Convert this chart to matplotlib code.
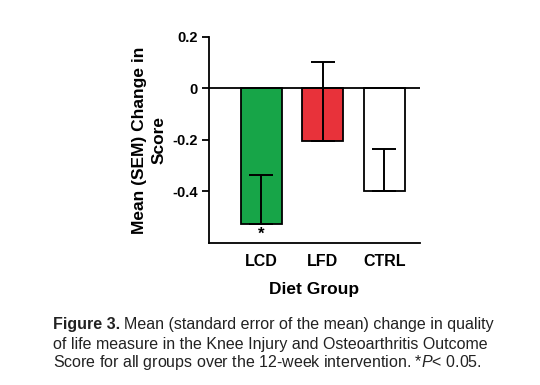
import matplotlib
matplotlib.use('Agg')
import matplotlib.pyplot as plt

plt.rcParams['font.family'] = ['Liberation Sans', 'DejaVu Sans']
plt.rcParams['mathtext.fontset'] = 'custom'
plt.rcParams['mathtext.it'] = 'Liberation Sans:italic'
plt.rcParams['mathtext.rm'] = 'Liberation Sans'

grupos = ['LCD', 'LFD', 'CTRL']
medias = [-0.527, -0.206, -0.40]
sem = [0.192, 0.31, 0.166]
colores = ['#17a548', '#e8323a', 'white']

fig = plt.figure(figsize=(5.4, 3.85), dpi=100)
ax = fig.add_axes([0.387, 0.369, 0.391, 0.535])

x = list(range(len(grupos)))
ax.bar(x, medias, width=0.67, color=colores, edgecolor='black', linewidth=1.3, zorder=2)
ax.errorbar(x, medias, yerr=[[0] * len(sem), sem], fmt='none', ecolor='black',
            elinewidth=1.4, capsize=8.5, capthick=1.4, zorder=3)
ax.axhline(0, color='black', linewidth=1.3, zorder=4)

ax.text(0, medias[0] - 0.012, '*', ha='center', va='top', fontsize=12, fontweight='bold')

ax.set_xlim(-0.85, 2.58)
ax.set_ylim(-0.6, 0.2)
ax.set_yticks([0.2, 0, -0.2, -0.4])
ax.set_yticklabels(['0.2', '0', '-0.2', '-0.4'])
ax.set_xticks(x)
ax.set_xticklabels(grupos)
ax.tick_params(axis='x', length=0, pad=8)
ax.tick_params(axis='y', length=5, width=1.3, pad=3)
for lab in ax.get_xticklabels():
    lab.set_fontweight('bold')
    lab.set_fontsize(11.5)
for lab in ax.get_yticklabels():
    lab.set_fontweight('bold')
    lab.set_fontsize(10.5)
ax.spines['top'].set_visible(False)
ax.spines['right'].set_visible(False)
ax.spines['left'].set_linewidth(1.3)
ax.spines['bottom'].set_linewidth(1.3)
ax.set_ylabel('Mean (SEM) Change in\nScore', fontsize=12.5, fontweight='bold', labelpad=4,
              linespacing=1.4)
ax.set_xlabel('Diet Group', fontsize=12.5, fontweight='bold', labelpad=9)

# pie de figura
fig.canvas.draw()
r = fig.canvas.get_renderer()
x0 = 53 / 540
t = fig.text(x0, 1 - 325 / 385, 'Figure 3.', fontsize=11.5, fontweight='bold', va='center', color='#222222')
bb = t.get_window_extent(r)
fig.text(bb.x1 / 540 + 0.007, 1 - 325 / 385, 'Mean (standard error of the mean) change in quality',
         fontsize=11.5, va='center', color='#222222')
fig.text(x0, 1 - 344 / 385, 'of life measure in the Knee Injury and Osteoarthritis Outcome',
         fontsize=11.5, va='center', color='#222222')
fig.text(x0, 1 - 363 / 385, 'Score for all groups over the 12-week intervention. *$\\mathit{P}$< 0.05.',
         fontsize=11.5, va='center', color='#222222')

fig.savefig('out.png', dpi=100, facecolor='white')
